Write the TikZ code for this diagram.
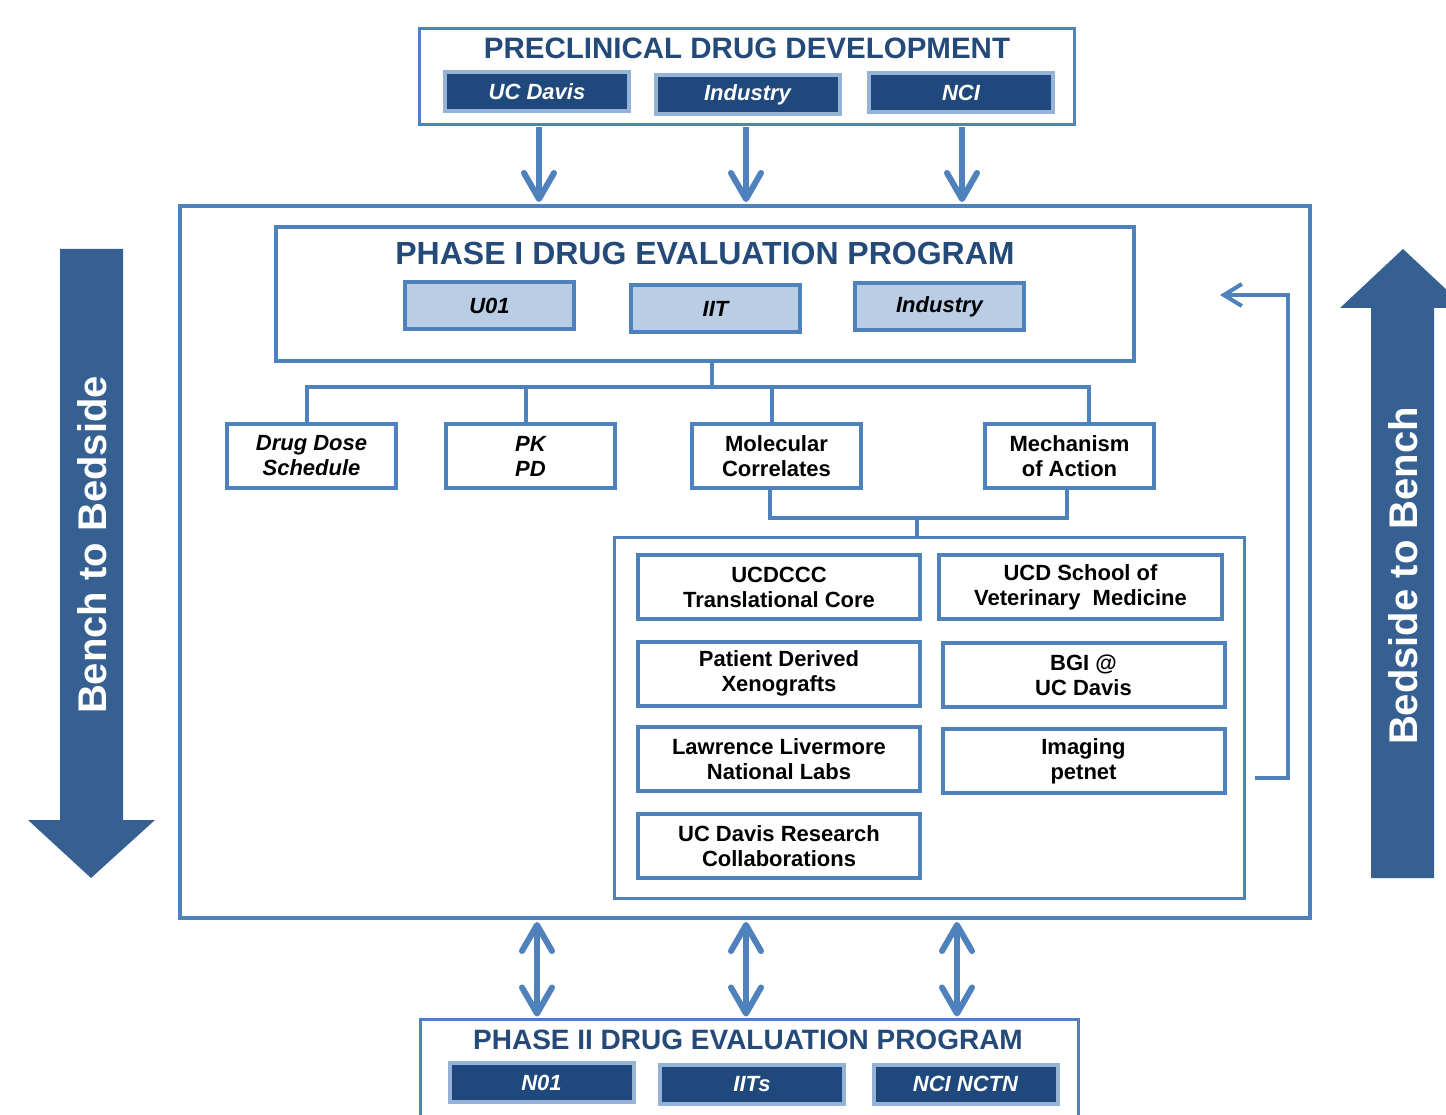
\documentclass[tikz,border=0pt]{standalone}
\usepackage{fontspec}
\setmainfont{Liberation Sans}
\usetikzlibrary{arrows.meta}
\definecolor{lineblue}{HTML}{4F81BD}
\definecolor{darkfill}{HTML}{1F497D}
\definecolor{lightedge}{HTML}{95B3D7}
\definecolor{lightfill}{HTML}{B9CDE5}
\definecolor{bigarrow}{HTML}{376092}
\definecolor{titleblue}{HTML}{244A7A}
\tikzset{
  x=1pt, y=-1pt,
  frame/.style={draw=lineblue, line width=#1, fill=white, inner sep=0pt},
  frame/.default=4pt,
  titletext/.style={text=titleblue, font=\fontsize{#1}{#1}\selectfont\bfseries, inner sep=0pt},
  darkbox/.style={draw=lightedge, fill=darkfill, line width=4pt, minimum width=184pt, minimum height=39pt, inner sep=0pt, text=white, font=\fontsize{22}{25}\selectfont\bfseries\itshape},
  lightbox/.style={draw=lineblue, fill=lightfill, line width=4pt, minimum width=169pt, minimum height=47pt, inner sep=0pt, font=\fontsize{22}{25}\selectfont\bfseries\itshape},
  whitebox/.style={draw=lineblue, fill=white, line width=4pt, minimum width=169pt, minimum height=64pt, inner sep=0pt, align=center, font=\fontsize{22}{25}\selectfont\bfseries},
  itbox/.style={whitebox, font=\fontsize{22}{25}\selectfont\bfseries\itshape},
  partnerbox/.style={whitebox, minimum width=282pt},
  conn/.style={draw=lineblue, line width=4pt},
  bigbarb/.tip={Straight Barb[length=26pt,width=30pt,line cap=round,line join=round]},
  downarrow/.style={draw=lineblue, line width=6pt, -bigbarb},
  twoarrow/.style={draw=lineblue, line width=6pt, bigbarb-bigbarb},
  backarrow/.style={draw=lineblue, line width=4pt, -{Straight Barb[length=18pt,width=22pt]}},
  bigtext/.style={text=white, font=\fontsize{40}{40}\selectfont\bfseries, rotate=90, inner sep=0pt},
}
\begin{document}
\begin{tikzpicture}
\useasboundingbox (0,0) rectangle (1446,1115);
\clip (0,0) rectangle (1446,1115);
\fill[white] (0,0) rectangle (1446,1115);

% big side arrows
\fill[bigarrow] (60,249) -- (123,249) -- (123,820) -- (155,820) -- (91,878) -- (28,820) -- (60,820) -- cycle;
\node[bigtext] (b2b) at (92,545) {Bench to Bedside};
\fill[bigarrow] (1371,878) -- (1434,878) -- (1434,308) -- (1466,308) -- (1403,249) -- (1340,308) -- (1371,308) -- cycle;
\node[bigtext] (b2bench) at (1403,576) {Bedside to Bench};

% preclinical
\node[frame=3pt, minimum width=655pt, minimum height=96pt] (pre) at (747,76.5) {};
\node[titletext=29.5] (pretitle) at (747,48) {PRECLINICAL DRUG DEVELOPMENT};
\node[darkbox] (ucd) at (537,91.5) {UC Davis};
\node[darkbox] (ind) at (747.5,94.5) {Industry};
\node[darkbox] (nci) at (961,93) {NCI};

% outer program box
\node[frame=4pt, minimum width=1130pt, minimum height=712pt] (outer) at (745,562) {};

\coordinate (a1) at (539,0);
\coordinate (a2) at (746,0);
\coordinate (a3) at (962,0);
\draw[downarrow] ([yshift=-1pt]pre.south -| a1) -- ([yshift=2pt]outer.north -| a1);
\draw[downarrow] ([yshift=-1pt]pre.south -| a2) -- ([yshift=2pt]outer.north -| a2);
\draw[downarrow] ([yshift=-1pt]pre.south -| a3) -- ([yshift=2pt]outer.north -| a3);

% phase I
\node[frame=4pt, minimum width=858pt, minimum height=134pt] (p1) at (705,294) {};
\node[titletext=32] (p1title) at (705,253) {PHASE I DRUG EVALUATION PROGRAM};
\node[lightbox] (u01) at (489.5,305.5) {U01};
\node[lightbox] (iit) at (715.5,308.5) {IIT};
\node[lightbox] (ind2) at (939.5,306.5) {Industry};

% row of four
\node[itbox] (dds) at (311.5,456) {Drug Dose\\Schedule};
\node[itbox] (pk) at (530.5,456) {PK\\PD};
\node[whitebox] (mol) at (776.5,456) {Molecular\\Correlates};
\node[whitebox] (mech) at (1069.5,456) {Mechanism\\of Action};

\coordinate (hub) at (712,387);
\draw[conn] (p1.south -| hub) -- (hub);
\draw[conn] (dds.north -| 307,0) |- (hub) -| (mech.north -| 1089,0);
\draw[conn] (pk.north -| 526,0) -- (526,387);
\draw[conn] (mol.north -| 772,0) -- (772,387);

% partners group
\node[frame=3pt, minimum width=630pt, minimum height=361pt] (grp) at (929,717.5) {};
\coordinate (join) at (917,518);
\draw[conn] (mol.south -| 770,0) |- (join) -| (mech.south -| 1067,0);
\draw[conn] (join) -- (grp.north -| join);

\node[partnerbox] (ucdccc) at (779,587) {UCDCCC\\Translational Core};
\node[partnerbox, minimum width=283pt] (vet) at (1080.5,587) {UCD School of\\Veterinary\ \ Medicine};
\node[partnerbox] (pdx) at (779,673.5) {Patient Derived\\Xenografts};
\node[partnerbox] (bgi) at (1083.5,675) {BGI @\\UC Davis};
\node[partnerbox] (llnl) at (779,759) {Lawrence Livermore\\National Labs};
\node[partnerbox] (img) at (1083.5,761) {Imaging\\petnet};
\node[partnerbox] (ucdrc) at (779,846) {UC Davis Research\\Collaborations};

% feedback arrow
\coordinate (fbs) at (1255,778);
\coordinate (fbe) at (1220,295);
\draw[backarrow] (fbs) -- (1288,778) |- (fbe);

% phase II
\node[frame=3pt, minimum width=658pt, minimum height=140pt, anchor=north] (p2) at (749,1018) {};
\node[titletext=28] (p2title) at (748,1040) {PHASE II DRUG EVALUATION PROGRAM};
\node[darkbox] (n01) at (541.5,1082.5) {N01};
\node[darkbox] (iits) at (752,1084) {IITs};
\node[darkbox] (nctn) at (965.5,1084) {NCI NCTN};

\coordinate (b1) at (537,0);
\coordinate (b2) at (746,0);
\coordinate (b3) at (957,0);
\draw[twoarrow] ([yshift=-2pt]outer.south -| b1) -- ([yshift=1.5pt]p2.north -| b1);
\draw[twoarrow] ([yshift=-2pt]outer.south -| b2) -- ([yshift=1.5pt]p2.north -| b2);
\draw[twoarrow] ([yshift=-2pt]outer.south -| b3) -- ([yshift=1.5pt]p2.north -| b3);
\end{tikzpicture}
\end{document}
